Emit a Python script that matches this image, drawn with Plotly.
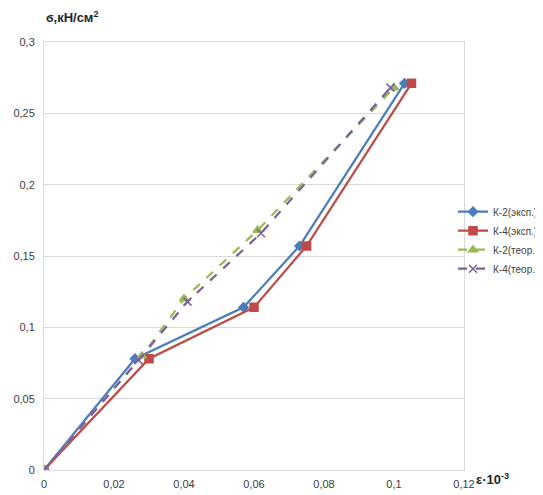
import plotly.graph_objects as go

names = ["К-2(эксп.)", "К-4(эксп.)", "К-2(теор.)", "К-4(теор.)"]
x_k2e = [0, 0.026, 0.057, 0.073, 0.103]
y_k2e = [0, 0.078, 0.114, 0.157, 0.271]
x_k4e = [0, 0.030, 0.060, 0.075, 0.105]
y_k4e = [0, 0.078, 0.114, 0.157, 0.271]
x_k2t = [0, 0.028, 0.040, 0.061, 0.100]
y_k2t = [0, 0.080, 0.120, 0.168, 0.268]
x_k4t = [0, 0.027, 0.041, 0.062, 0.099]
y_k4t = [0, 0.077, 0.118, 0.166, 0.268]
x_ticks = [0, 0.02, 0.04, 0.06, 0.08, 0.1, 0.12]
x_labels = ["0", "0,02", "0,04", "0,06", "0,08", "0,1", "0,12"]
y_ticks = [0, 0.05, 0.1, 0.15, 0.2, 0.25, 0.3]
y_labels = ["0", "0,05", "0,1", "0,15", "0,2", "0,25", "0,3"]

colors = ["#4a7ebb", "#be4b48", "#98b954", "#7d5fa0"]

fig = go.Figure()
series = [(x_k2e, y_k2e, "diamond", "solid", 7), (x_k4e, y_k4e, "square", "solid", 8),
          (x_k2t, y_k2t, "triangle-up", "dash", 8), (x_k4t, y_k4t, "x-thin-open", "dash", 8)]
for i, (xs, ys, sym, dash, ms) in enumerate(series):
    fig.add_trace(go.Scatter(
        x=xs, y=ys, name=names[i], mode="lines+markers",
        line=dict(color=colors[i], width=2.25, dash=dash),
        marker=dict(symbol=sym, size=ms, color=colors[i], line=dict(color=colors[i], width=1.5)),
    ))

# page body adds an 8px offset; figure is a bit wider than the window so the legend has room
W, H = 551, 487
L, R_PLOT = 36, 456
fig.update_layout(
    width=W, height=H,
    margin=dict(l=L, r=0, t=34, b=25, autoexpand=False),
    paper_bgcolor="white", plot_bgcolor="white",
    font=dict(family="Liberation Sans, Arial", size=11, color="#404040"),
    showlegend=True,
    legend=dict(x=(445 - L) / (W - L), y=0.537, xanchor="left", yanchor="middle",
                font=dict(size=10, color="#404040"), tracegroupgap=0,
                itemwidth=30, bgcolor="rgba(0,0,0,0)"),
    xaxis=dict(domain=[0, (R_PLOT - L) / (W - L)], range=[0, 0.12],
               tickvals=x_ticks, ticktext=x_labels, automargin=False,
               showgrid=False, zeroline=False, showline=True, linecolor="#d9d9d9",
               mirror=True, ticks="", ticklabelstandoff=4),
    yaxis=dict(range=[0, 0.3], tickvals=y_ticks, ticktext=y_labels, automargin=False,
               showgrid=True, gridcolor="#d9d9d9", zeroline=False, showline=True,
               linecolor="#d9d9d9", mirror=True, ticks="", ticklabelstandoff=6),
    annotations=[
        dict(text="<b>ϭ,кН/см<sup>2</sup></b>", xref="paper", yref="paper", x=0.0, y=1.0,
             xanchor="left", yanchor="middle", yshift=25, showarrow=False,
             font=dict(size=13, color="#262626")),
        dict(text="<b>ε·10<sup>-3</sup></b>", xref="x", yref="paper", x=0.12, y=0.0,
             xanchor="left", yanchor="middle", xshift=10, yshift=-9, showarrow=False,
             font=dict(size=13, color="#262626")),
    ],
)

fig.write_html("out.html", post_script="document.body.style.overflow='hidden';")
